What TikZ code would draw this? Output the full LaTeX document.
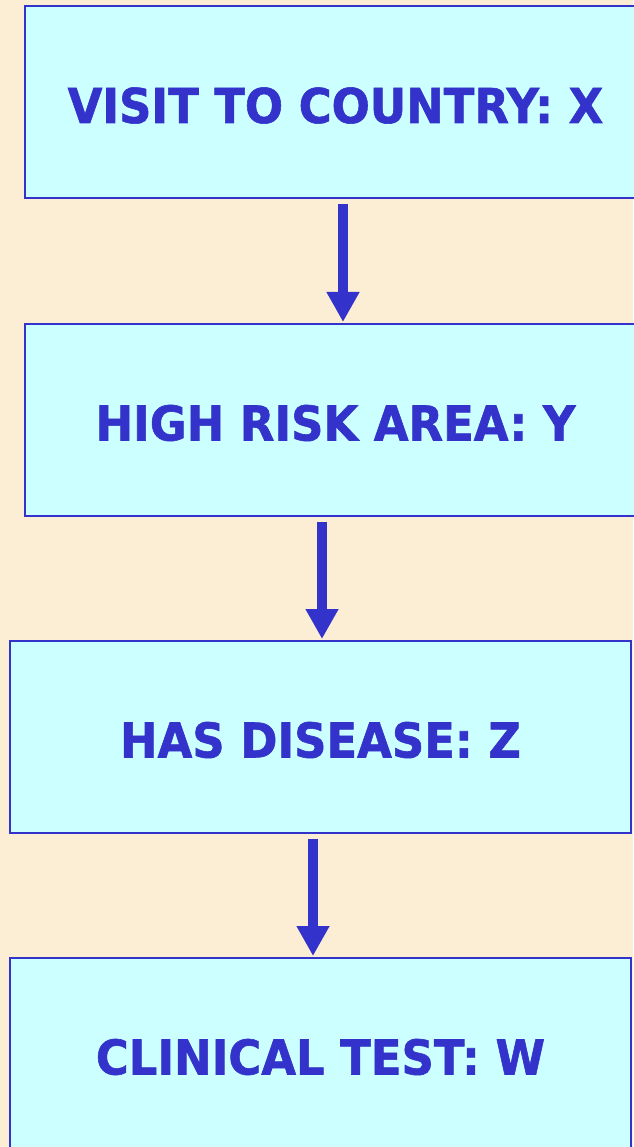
\documentclass[tikz,border=0pt]{standalone}
\usepackage{fontspec}
\setmainfont{DejaVu Sans}[FakeStretch=0.935, BoldFeatures={FakeBold=1.2}]
\usetikzlibrary{arrows.meta}
\definecolor{bg}{HTML}{FCEED4}
\definecolor{boxfill}{HTML}{CCFFFF}
\definecolor{ink}{HTML}{3333CC}
\tikzset{
  stage/.style={draw=ink, line width=2pt, fill=boxfill, rectangle, inner sep=0pt,
    minimum width=621pt, minimum height=192pt, text height=41pt, text depth=0pt,
    font=\fontsize{48}{54}\selectfont\bfseries, text=ink},
  flow/.style={draw=ink, line width=10pt, -{Triangle[width=31pt,length=30pt]}, shorten <=4.5pt, shorten >=1pt}
}
\begin{document}
\begin{tikzpicture}[x=1pt,y=-1pt]
\fill[bg] (0,0) rectangle (633,1147);
\useasboundingbox (0,0) rectangle (633,1147);
\node[stage] (b1) at (335.5,102.5) {VISIT TO COUNTRY: X};
\node[stage] (b2) at (335.5,420) {HIGH RISK AREA: Y};
\node[stage] (b3) at (320.5,737) {HAS DISEASE: Z};
\node[stage] (b4) at (320.5,1054) {CLINICAL TEST: W};
\draw[flow] (b1.south -| 343,0) -- (b2.north -| 343,0);
\draw[flow] (b2.south -| 322,0) -- (b3.north -| 322,0);
\draw[flow] (b3.south -| 313,0) -- (b4.north -| 313,0);
\end{tikzpicture}
\end{document}
